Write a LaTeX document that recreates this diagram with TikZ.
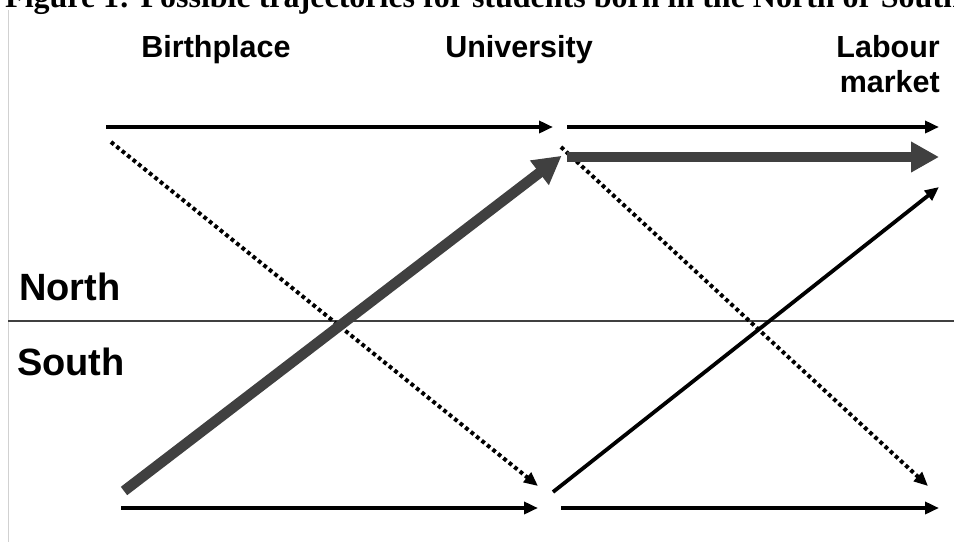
\documentclass[tikz,border=0pt]{standalone}
\usepackage{fontspec}
\setmainfont{Liberation Sans}
\newfontfamily\titlefont{Liberation Serif}
\usetikzlibrary{arrows.meta}
\definecolor{thickgray}{HTML}{404040}
\begin{document}
\begin{tikzpicture}[x=1pt,y=-1pt,
  hdr/.style={font=\fontsize{30.5}{35}\selectfont\bfseries, align=center},
  region/.style={font=\fontsize{38}{40}\selectfont\bfseries, anchor=base west, inner sep=0pt},
  thinarrow/.style={line width=3.8pt, -{Triangle[length=14pt,width=12pt]}},
  dotarrow/.style={line width=4pt, dash pattern=on 3.8pt off 3.2pt, -{Triangle[length=14pt,width=12pt]}},
  thickarrow/.style={line width=10.5pt, draw=thickgray, -{Triangle[length=28pt,width=29pt]}, shorten >=-2pt}]
\useasboundingbox (0,0) rectangle (954,542);
\clip (0,0) rectangle (954,542);
% cut-off title
\node[anchor=base west, inner sep=0pt, font=\titlefont\fontsize{32}{34}\selectfont\bfseries] (title) at (5,7.5) {Figure 1: Possible trajectories for students born in the North or South};
% frame lines
\draw[draw=black!18, line width=1pt] (8,10) -- (8,542);
\draw[draw=thickgray, line width=1.2pt] (8,321) -- (954,321);
% headers
\node[hdr, anchor=base] (birth) at (216,57) {Birthplace};
\node[hdr, anchor=base] (univ) at (519,57) {University};
\node[hdr, anchor=base east, align=right, inner sep=0pt] (labour) at (940,92) {Labour\\market};
% regions
\node[region] (north) at (19,300) {North};
\node[region] (south) at (17,375) {South};
% coordinates
\coordinate (bNs) at (106,127);
\coordinate (uNe) at (553,127);
\coordinate (uNs) at (567,127);
\coordinate (lNe) at (939,127);
\coordinate (bNd) at (111,142);
\coordinate (uSd) at (538,486);
\coordinate (bSt) at (124,491);
\coordinate (uNt) at (560,157);
\coordinate (uNt2) at (567,157);
\coordinate (lNt) at (937,157);
\coordinate (uNd) at (561,147);
\coordinate (lSd) at (928,486);
\coordinate (uSs) at (553,492);
\coordinate (lNm) at (939,187);
\coordinate (bSs) at (121,508);
\coordinate (uSe) at (538,508);
\coordinate (uSs2) at (561,508);
\coordinate (lSe) at (939,508);
% arrows
\draw[thinarrow] (bNs) -- (uNe);
\draw[thinarrow] (uNs) -- (lNe);
\draw[dotarrow] (bNd) -- (uSd);
\draw[dotarrow] (uNd) -- (lSd);
\draw[thickarrow] (bSt) -- (uNt);
\draw[thickarrow] (uNt2) -- (lNt);
\draw[thinarrow] (uSs) -- (lNm);
\draw[thinarrow] (bSs) -- (uSe);
\draw[thinarrow] (uSs2) -- (lSe);
\end{tikzpicture}
\end{document}
